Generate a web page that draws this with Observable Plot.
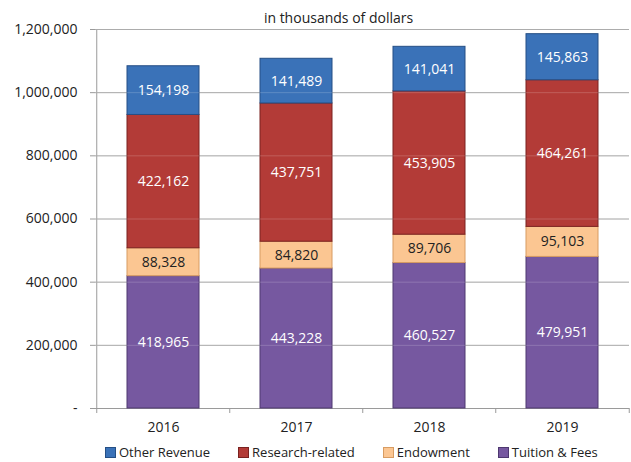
<!DOCTYPE html>
<html><head><meta charset="utf-8">
<script src="https://cdn.jsdelivr.net/npm/d3@7"></script>
<script src="https://cdn.jsdelivr.net/npm/@observablehq/plot@0.6"></script>
<style>
body{margin:0;background:#fff;font-family:"Open Sans",sans-serif;}
#wrap{width:631px;position:relative;}
#legend{display:flex;gap:28px;padding-left:105px;height:24px;align-items:center;font-size:13px;color:#222;}
#legend .item{display:flex;align-items:center;gap:3px;}
#legend .sw{width:9px;height:9px;border:1px solid;}
</style>
</head><body><div id="wrap"><div id="chart"></div><div id="legend"></div></div>
<script>
const title = "in thousands of dollars";
const years = ["2016", "2017", "2018", "2019"];
const seriesNames = ["Tuition & Fees", "Endowment", "Research-related", "Other Revenue"];
const tuition = [418965, 443228, 460527, 479951];
const endowment = [88328, 84820, 89706, 95103];
const research = [422162, 437751, 453905, 464261];
const other = [154198, 141489, 141041, 145863];
const yTicks = [0, 200000, 400000, 600000, 800000, 1000000, 1200000];
const legendOrder = ["Other Revenue", "Research-related", "Endowment", "Tuition & Fees"];

const fills = ["#7658a0", "#fbc692", "#b33b37", "#3a72b8"];
const strokes = ["#4e3870", "#d89c62", "#7a2220", "#254f85"];
const textFills = ["#ffffff", "#222222", "#ffffff", "#ffffff"];

const values = [tuition, endowment, research, other];
const rows = [];
years.forEach((yr, i) => seriesNames.forEach((s, j) => rows.push({year: yr, series: s, value: values[j][i], k: j})));

const W = 631, H = 440, ML = 95, MR = 2, MT = 29, MB = 32;
const step = (W - ML - MR) / years.length;
const fmt = d3.format(",");

const chart = Plot.plot({
  width: W, height: H,
  marginLeft: ML, marginRight: MR, marginTop: MT, marginBottom: MB,
  style: {fontFamily: "'Open Sans', sans-serif", fontSize: "14px", color: "#222", background: "#fff"},
  x: {type: "band", domain: years, paddingInner: 0.46, paddingOuter: 0.23, label: null},
  y: {domain: [0, 1200000], label: null},
  color: {domain: seriesNames, range: fills},
  marks: [
    Plot.gridY(yTicks, {stroke: "#9a9a9a", strokeOpacity: 1, strokeWidth: 1}),
    Plot.ruleX(years.slice(0, 1), {x: d => d, dx: -step / 2, y1: 0, y2: 1200000, stroke: "#9a9a9a"}),
    Plot.ruleX(years, {x: d => d, dx: -step / 2, y1: 0, y2: 0, insetBottom: -5, stroke: "#9a9a9a"}),
    Plot.ruleX(years.slice(-1), {x: d => d, dx: step / 2, y1: 0, y2: 0, insetBottom: -5, stroke: "#9a9a9a"}),
    Plot.barY(rows, Plot.stackY({
      x: "year", y: "value", z: "series", order: seriesNames,
      fill: "series",
      stroke: {value: d => strokes[d.k], scale: null},
      strokeWidth: 1
    })),
    Plot.gridY(yTicks.filter(d => d > 0), {stroke: "#ffffff", strokeOpacity: 0.18}),
    Plot.text(rows, Plot.stackY({
      x: "year", y: "value", z: "series", order: seriesNames,
      text: d => fmt(d.value),
      fill: {value: d => textFills[d.k], scale: null},
      fontSize: 14
    })),
    Plot.axisY(yTicks, {tickSize: 5, tickPadding: 13, stroke: "#9a9a9a", fill: "#222", fontSize: 14,
      tickFormat: d => d === 0 ? "-" : fmt(d)}),
    Plot.axisX({tickSize: 0, tickPadding: 14, fill: "#222", fontSize: 14}),
    Plot.text([title], {frameAnchor: "top", dx: -24, dy: -16, fontSize: 14, fill: "#222"})
  ]
});
document.getElementById("chart").appendChild(chart);

const leg = document.getElementById("legend");
legendOrder.forEach(name => {
  const k = seriesNames.indexOf(name);
  const it = document.createElement("div");
  it.className = "item";
  const sw = document.createElement("span");
  sw.className = "sw";
  sw.style.background = fills[k];
  sw.style.borderColor = strokes[k];
  const tx = document.createElement("span");
  tx.textContent = name;
  it.appendChild(sw); it.appendChild(tx);
  leg.appendChild(it);
});
</script>
</body></html>
